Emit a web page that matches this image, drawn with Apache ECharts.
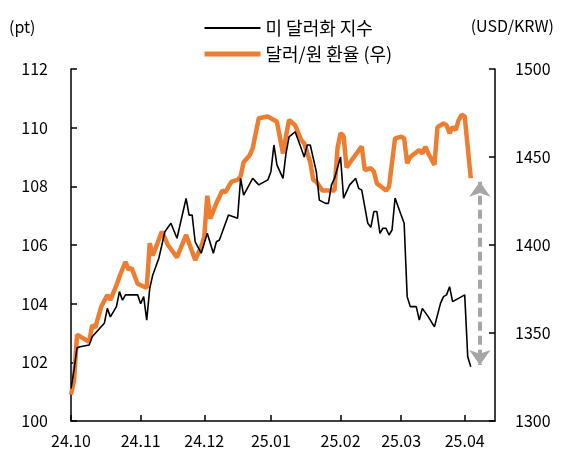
<!DOCTYPE html>
<html>
<head>
<meta charset="utf-8">
<script src="https://cdn.jsdelivr.net/npm/echarts@6/dist/echarts.min.js"></script>
<style>
html,body{margin:0;padding:0;background:#fff;}
#chart{width:567px;height:464px;}
</style>
</head>
<body>
<div id="chart"></div>
<script>
// ---- Data ----
const startDate = '2024-10-01';
const tradingDayCount = 141; // weekday slots shown on the x axis
const seriesNames = ['미 달러화 지수', '달러/원 환율 (우)'];
const leftUnit = '(pt)';
const rightUnit = '(USD/KRW)';

// US dollar index (left axis): weekday index -> value
const dxyIdx = [0,1,2,3,6,7,9,11,12,13,15,16,17,18,22,23,24,25,26,27,29,31,33,35,38,39,40,41,43,45,47,48,49,52,55,56,57,60,62,65,66,67,68,70,71,72,74,76,77,78,79,81,82,84,85,86,87,89,90,92,94,95,96,98,99,100,101,102,103,104,105,106,107,109,110,111,112,114,115,116,118,120,122,123,124,125,126,129,130,131,132];
const dxyVal = [101.1,101.74,102.5,102.53,102.59,102.87,103.1,103.33,103.84,103.55,103.9,104.41,104.12,104.3,104.3,104.0,104.24,103.44,104.52,104.98,105.55,106.45,106.74,106.23,107.59,107.02,107.02,106.11,105.72,106.4,105.72,106.11,106.17,107.02,106.91,108.27,107.7,108.27,108.05,108.22,108.5,109.41,108.73,108.27,109.13,109.69,109.86,109.3,109.0,109.41,109.41,108.5,107.53,107.42,107.42,108.05,108.27,109.0,107.6,108.05,108.27,107.93,107.87,106.74,106.6,107.14,107.14,106.4,106.57,106.57,106.34,106.51,107.6,107.02,106.74,104.24,103.9,103.9,103.44,103.84,103.55,103.21,104.01,104.24,104.3,104.58,104.07,104.24,104.3,102.19,101.85];

// USD/KRW (right axis): weekday index -> value
const krwIdx = [0,1,2,6,7,8,10,12,13,15,16,18,19,20,22,25,26,27,30,32,35,38,41,43,44,45,46,48,50,51,53,55,56,57,59,60,62,65,68,70,71,72,74,76,77,79,80,81,83,85,87,88,89,90,91,93,96,97,99,100,101,104,105,107,109,110,111,112,115,116,117,118,120,121,122,123,124,125,126,127,128,129,130,132];
const krwVal = [1315,1323,1349,1345,1354.5,1353,1365,1371.6,1368.8,1377,1382,1390.5,1386,1387,1378,1375.6,1401,1394,1407.6,1400,1393,1405.7,1391.5,1399,1404.7,1428,1415,1423.7,1431,1430,1436,1437,1439,1447,1451,1455,1472,1473,1470,1452,1462,1471,1468,1459.7,1457.8,1447,1437,1436,1431,1431,1431,1455,1463.5,1462,1444,1449,1456,1442.6,1443.6,1441.7,1435,1431,1433,1460.6,1461.5,1460.6,1446.4,1450,1454,1452,1455.9,1452,1445.5,1467,1468,1469,1468,1463.5,1467,1465.3,1471,1474,1473,1438];

// annotation arrow (left-axis data coordinates)
const arrowIdx = 135;
const arrowTop = 108.16;
const arrowBottom = 101.91;

// ---- Build categories (weekdays) ----
function pad(n){return (n<10?'0':'')+n;}
const categories = [];
(function(){
  const d = new Date(startDate + 'T00:00:00Z');
  while (categories.length < tradingDayCount) {
    const wd = d.getUTCDay();
    if (wd !== 0 && wd !== 6) {
      categories.push(d.getUTCFullYear() + '-' + pad(d.getUTCMonth()+1) + '-' + pad(d.getUTCDate()));
    }
    d.setUTCDate(d.getUTCDate()+1);
  }
})();
const monthStart = {};
categories.forEach((c,i)=>{ if (i===0 || c.slice(0,7)!==categories[i-1].slice(0,7)) monthStart[i]=true; });
const isMonthStart = (idx)=> !!monthStart[idx];

const FONT = '"Noto Sans CJK KR", "Noto Sans", sans-serif';
const chart = echarts.init(document.getElementById('chart'), null, {renderer:'canvas'});
const axisLine = {show:true, lineStyle:{color:'#000', width:1.5}};

chart.setOption({
  animation:false,
  backgroundColor:'#fff',
  textStyle:{fontFamily:FONT},
  grid:{left:71, right:72, top:69, bottom:43, containLabel:false},
  legend:{
    orient:'vertical', left:197, top:14, itemWidth:56, itemHeight:14, itemGap:8,
    itemStyle:{opacity:0},
    textStyle:{fontSize:18, color:'#000', fontFamily:FONT},
    data:[
      {name:seriesNames[0], lineStyle:{width:2}},
      {name:seriesNames[1], lineStyle:{width:5}}
    ]
  },
  graphic:[
    {type:'text', left:9, top:19, style:{text:leftUnit, fontSize:16, fill:'#000', fontFamily:FONT}},
    {type:'text', right:13, top:18, style:{text:rightUnit, fontSize:16, fill:'#000', fontFamily:FONT}}
  ],
  xAxis:{
    type:'category', data:categories, boundaryGap:false,
    axisLine:axisLine,
    axisTick:{show:true, inside:true, length:6, interval:isMonthStart, lineStyle:{color:'#000', width:1.5}},
    axisLabel:{interval:isMonthStart, margin:12, fontSize:16, color:'#000', fontFamily:FONT,
      formatter:(v)=> v.slice(2,4)+'.'+v.slice(5,7)},
    splitLine:{show:false}
  },
  yAxis:[
    {type:'value', min:100, max:112, interval:2, position:'left',
      axisLine:axisLine, axisTick:{show:true, inside:true, length:6, lineStyle:{color:'#000', width:1.5}},
      axisLabel:{margin:23, fontSize:16, color:'#000', fontFamily:FONT, formatter:(v)=>String(v)}, splitLine:{show:false}},
    {type:'value', min:1300, max:1500, interval:50, position:'right',
      axisLine:axisLine, axisTick:{show:true, inside:true, length:6, lineStyle:{color:'#000', width:1.5}},
      axisLabel:{margin:20, fontSize:16, color:'#000', fontFamily:FONT, formatter:(v)=>String(v)}, splitLine:{show:false}}
  ],
  series:[
    {name:seriesNames[0], type:'line', yAxisIndex:0, z:4, symbol:'none', showSymbol:false,
      lineStyle:{color:'#000', width:1.6}, itemStyle:{color:'#000'},
      data:dxyIdx.map((d,i)=>[d, dxyVal[i]]),
      markLine:{silent:true, symbol:['arrow','arrow'], symbolSize:[16,15],
        label:{show:false},
        lineStyle:{color:'#A6A6A6', width:4, type:[9,5]},
        itemStyle:{color:'#A6A6A6'},
        data:[[{coord:[arrowIdx, arrowTop]},{coord:[arrowIdx, arrowBottom]}]]}
    },
    {name:seriesNames[1], type:'line', yAxisIndex:1, z:3, symbol:'none', showSymbol:false,
      lineStyle:{color:'#ED7D31', width:4.5}, itemStyle:{color:'#ED7D31'},
      data:krwIdx.map((d,i)=>[d, krwVal[i]])}
  ]
});
</script>
</body>
</html>
